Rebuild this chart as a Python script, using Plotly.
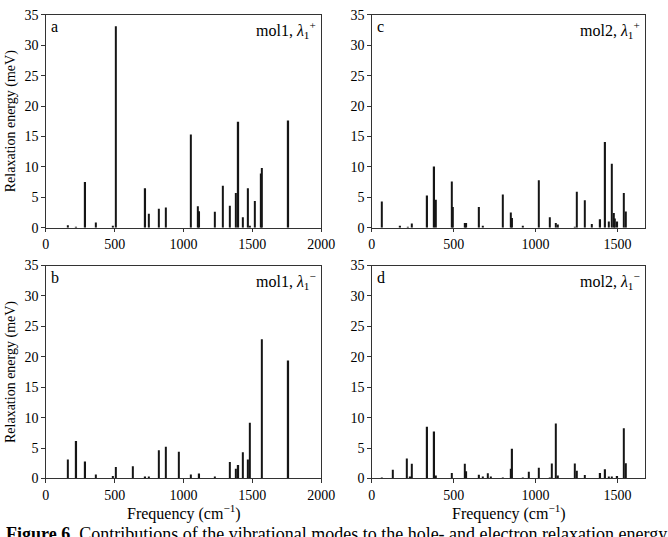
import plotly.graph_objects as go

# mol1 vibrational mode frequencies (cm^-1) and relaxation energies (meV)
mol1_freq = [162, 222, 287, 361, 485, 507, 633, 723, 746, 822, 871, 966, 1055, 1103,
             1115, 1228, 1284, 1335, 1378, 1399, 1430, 1470, 1480, 1518, 1561, 1571, 1762]
mol1_plus = [0.4, 0.1, 7.5, 0.85, 0.2, 33.1, 0.0, 6.5, 2.3, 3.1, 3.3, 0.0, 15.3, 3.5,
             2.7, 2.6, 6.9, 3.6, 5.7, 17.4, 1.7, 6.5, 0.3, 4.4, 8.9, 9.8, 17.6]
mol1_minus = [3.1, 6.15, 2.8, 0.65, 0.4, 1.9, 2.0, 0.2, 0.2, 4.65, 5.2, 4.4, 0.65, 0.0,
              0.8, 0.2, 0.0, 2.7, 1.6, 2.2, 4.3, 3.1, 9.15, 0.0, 0.0, 22.9, 19.4]

# mol2 vibrational mode frequencies (cm^-1) and relaxation energies (meV)
mol2_freq = [61, 129, 174, 216, 220, 236, 245, 339, 382, 390, 487, 493, 566, 578, 656,
             676, 709, 729, 798, 848, 858, 923, 957, 1020, 1086, 1098, 1125, 1137, 1238,
             1252, 1301, 1345, 1396, 1426, 1448, 1466, 1479, 1485, 1500, 1541, 1553]
mol2_plus = [4.3, 0.0, 0.25, 0.0, 0.1, 0.0, 0.7, 5.3, 10.05, 4.6, 7.6, 3.4, 0.75, 0.75, 3.4,
             0.2, 0.0, 0.0, 5.45, 2.5, 1.6, 0.3, 0.0, 7.8, 1.7, 0.0, 0.75, 0.5, 0.1,
             5.9, 4.5, 0.6, 1.4, 14.1, 1.0, 10.5, 2.4, 1.5, 1.0, 5.7, 2.65]
mol2_minus = [0.1, 1.45, 0.0, 3.3, 0.0, 0.3, 2.4, 8.5, 7.7, 0.5, 0.9, 0.0, 2.4, 1.2, 0.6,
              0.2, 0.85, 0.2, 0.1, 1.6, 4.9, 0.1, 1.1, 1.75, 0.1, 2.45, 9.05, 0.5, 2.45,
              1.25, 0.55, 0.0, 0.9, 1.5, 0.3, 0.3, 0.0, 0.0, 0.4, 8.25, 2.5]

panel_letters = ["a", "c", "b", "d"]
panel_labels = ["mol1, <i>λ</i><sub>1</sub><sup>+</sup>", "mol2, <i>λ</i><sub>1</sub><sup>+</sup>",
                "mol1, <i>λ</i><sub>1</sub><sup>−</sup>", "mol2, <i>λ</i><sub>1</sub><sup>−</sup>"]
x_ticks_mol1 = [0, 500, 1000, 1500, 2000]
x_ticks_mol2 = [0, 500, 1000, 1500]
y_ticks = [0, 5, 10, 15, 20, 25, 30, 35]

W, H = 668, 537
FONT = "Liberation Serif"
BAR = "#151515"
AX = "#333333"

def px_x(p):
    return p / W

def px_y(p):
    return 1 - p / H

panels = [
    (mol1_freq, mol1_plus, [0, 2000], x_ticks_mol1, (43, 326), (8, 227), 9.5),
    (mol2_freq, mol2_plus, [0, 1670], x_ticks_mol2, (378, 659), (8, 227), 8),
    (mol1_freq, mol1_minus, [0, 2000], x_ticks_mol1, (43, 326), (266, 485), 9.5),
    (mol2_freq, mol2_minus, [0, 1670], x_ticks_mol2, (378, 659), (266, 485), 8),
]

fig = go.Figure()
layout = dict(
    width=W, height=H,
    margin=dict(l=0, r=0, t=0, b=0),
    paper_bgcolor="white", plot_bgcolor="white",
    showlegend=False,
    font=dict(family=FONT, size=14, color="black"),
)
annotations = []
for i, (fx, fy, xr, xt, xd, yd, bw) in enumerate(panels):
    n = i + 1
    xa = "x" if n == 1 else f"x{n}"
    ya = "y" if n == 1 else f"y{n}"
    fig.add_trace(go.Bar(x=fx, y=fy, width=bw, marker=dict(color=BAR, line=dict(width=0)),
                         xaxis=xa, yaxis=ya))
    xkey = "xaxis" if n == 1 else f"xaxis{n}"
    ykey = "yaxis" if n == 1 else f"yaxis{n}"
    layout[xkey] = dict(
        domain=[px_x(xd[0]), px_x(xd[1])], range=xr, anchor=ya,
        tickvals=xt, ticktext=[str(t) for t in xt],
        ticks="outside", ticklen=3.5, tickwidth=0.8, tickcolor=AX,
        showline=True, linecolor=AX, linewidth=1, mirror=True,
        showgrid=False, zeroline=False,
        tickfont=dict(family=FONT, size=14, color="black"),
    )
    layout[ykey] = dict(
        domain=[px_y(yd[1]), px_y(yd[0])], range=[0, 35], anchor=xa,
        tickvals=y_ticks, ticks="outside", ticklen=3.5, tickwidth=0.8, tickcolor=AX,
        showline=True, linecolor=AX, linewidth=1, mirror=True,
        showgrid=False, zeroline=False,
        tickfont=dict(family=FONT, size=14, color="black"),
    )
    if n in (1, 3):
        layout[ykey]["title"] = dict(text="Relaxation energy (meV)",
                                     font=dict(family=FONT, size=14, color="black"),
                                     standoff=5)
    annotations.append(dict(text=panel_letters[i], x=px_x(xd[0] + 3), y=px_y(yd[0] + 1),
                            xref="paper", yref="paper", xanchor="left", yanchor="top",
                            showarrow=False, font=dict(family=FONT, size=16, color="black")))
    annotations.append(dict(text=panel_labels[i], x=px_x(xd[1] - 3), y=px_y(yd[0] + 2),
                            xref="paper", yref="paper", xanchor="right", yanchor="top",
                            showarrow=False, font=dict(family=FONT, size=16, color="black")))
    if n >= 3:
        annotations.append(dict(text="Frequency (cm<sup>−1</sup>)",
                                x=px_x((xd[0] + xd[1]) / 2), y=px_y(520),
                                xref="paper", yref="paper", xanchor="center", yanchor="middle",
                                showarrow=False, font=dict(family=FONT, size=16, color="black")))

annotations.append(dict(
    text="<b>Figure 6.</b> Contributions of the vibrational modes to the hole- and electron relaxation energy",
    x=0.0, y=px_y(542), xref="paper", yref="paper", xanchor="left", yanchor="middle",
    showarrow=False, font=dict(family=FONT, size=18, color="black")))
layout["annotations"] = annotations
fig.update_layout(**layout)
fig.write_html("out.html")
